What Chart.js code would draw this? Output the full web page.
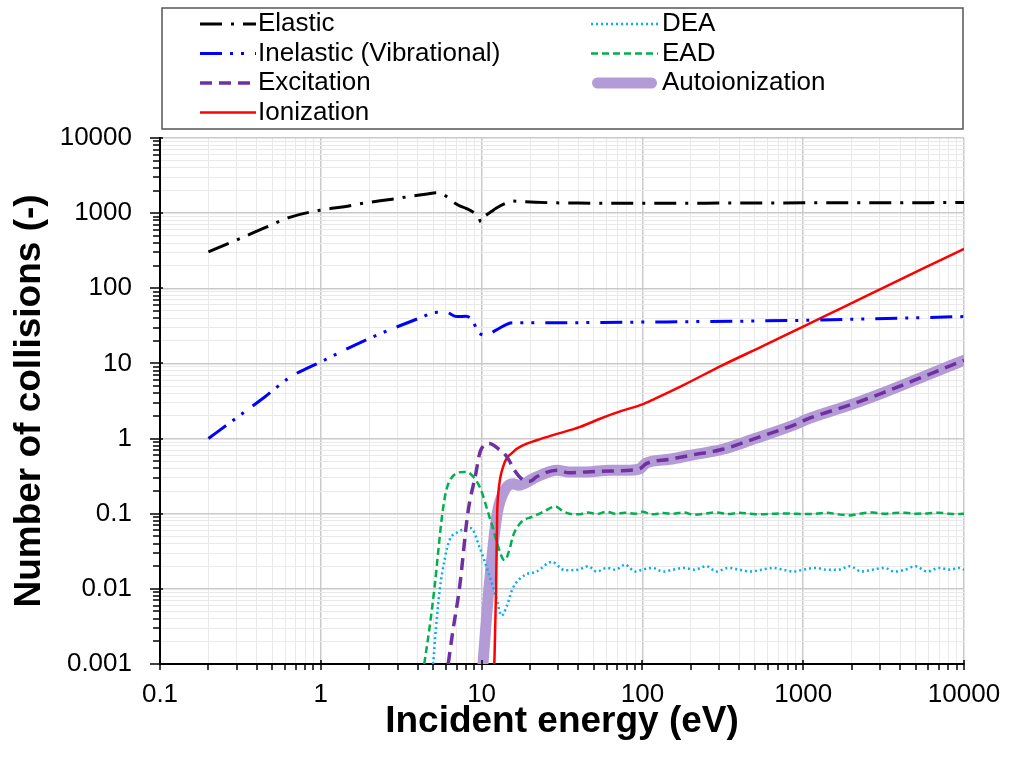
<!DOCTYPE html>
<html>
<head>
<meta charset="utf-8">
<script src="https://cdn.jsdelivr.net/npm/chart.js@4.4.1/dist/chart.umd.min.js"></script>
<style>
  html, body { margin: 0; padding: 0; background: #fff; }
  canvas { display: block; }
</style>
</head>
<body>
<canvas id="chart" width="1009" height="759"></canvas>
<script>
const ctx = document.getElementById('chart');

// axis ticks
const xTickValues = [0.1, 1, 10, 100, 1000, 10000];
const xTickLabels = ['0.1', '1', '10', '100', '1000', '10000'];
const yTickValues = [0.001, 0.01, 0.1, 1, 10, 100, 1000, 10000];
const yTickLabels = ['0.001', '0.01', '0.1', '1', '10', '100', '1000', '10000'];

const seriesNames = ['Elastic', 'Inelastic (Vibrational)', 'Excitation', 'Ionization', 'DEA', 'EAD', 'Autoionization'];

// incident energy (eV) / number of collisions
const elasticX = [0.2, 0.3, 0.45, 0.64, 1.0, 1.4, 1.92, 2.7, 3.74, 4.6, 5.2, 5.7, 6.2, 6.6, 7.3, 8.0, 9.1, 9.6, 9.9, 10.3, 10.7, 11.5, 12.3, 14, 15.6, 18, 25.7, 40, 100, 300, 1000, 3000, 10000];
const elasticY = [306, 440, 640, 880, 1100, 1220, 1375, 1520, 1690, 1800, 1870, 1800, 1600, 1420, 1250, 1160, 990, 880, 760, 880, 944, 1050, 1160, 1340, 1450, 1420, 1380, 1360, 1350, 1360, 1370, 1370, 1390];

const inelasticX = [0.2, 0.3, 0.45, 0.64, 1.0, 2.0, 4.3, 5.1, 6.0, 7.0, 8.0, 8.8, 9.5, 10.7, 12.3, 15.6, 25.7, 100, 1000, 10000];
const inelasticY = [1.0, 1.9, 3.6, 6.5, 10.5, 21.5, 41.7, 47.7, 48, 42, 42.5, 37, 26.4, 23.8, 27.8, 34.8, 34.8, 35.5, 37.5, 42];

const excitationX = [6.2, 6.6, 7.3, 8.2, 9.2, 9.8, 11.2, 12.5, 14.4, 16, 17.8, 20, 22, 29.5, 35, 45, 63, 84, 97, 105, 148, 200, 316, 500, 900, 1050, 2000, 3162, 5620, 10000];
const excitationY = [0.001, 0.0026, 0.0106, 0.1, 0.34, 0.67, 0.86, 0.75, 0.57, 0.38, 0.29, 0.27, 0.31, 0.38, 0.35, 0.36, 0.37, 0.38, 0.40, 0.46, 0.53, 0.6, 0.72, 1.0, 1.55, 1.8, 2.85, 4.1, 6.7, 11];

const ionizationX = [12.0, 12.3, 12.5, 12.7, 13.6, 15.8, 18.2, 22, 27.8, 41, 55, 75, 100, 120, 180, 316, 560, 1000, 1780, 3162, 5620, 10000];
const ionizationY = [0.001, 0.01, 0.1, 0.186, 0.42, 0.67, 0.82, 0.95, 1.11, 1.43, 1.85, 2.35, 2.85, 3.4, 5.15, 9.5, 17, 31, 56, 102, 185, 335];

const autoX = [10.2, 11.1, 12.5, 14.0, 15.7, 17, 22, 29.5, 35, 45, 63, 84, 97, 105, 148, 200, 316, 500, 900, 1050, 2000, 3162, 5620, 10000];
const autoY = [0.001, 0.01, 0.1, 0.21, 0.25, 0.24, 0.31, 0.38, 0.36, 0.36, 0.38, 0.38, 0.40, 0.47, 0.53, 0.6, 0.72, 1.0, 1.55, 1.8, 2.85, 4.1, 6.7, 11];

const eadLowX = [4.4, 4.75, 5.1, 5.7, 6.05, 6.9, 7.8, 8.5, 9.8, 11.2, 11.7, 12.5, 13.9, 15.0, 15.6, 17.4, 20.9, 24, 28.8, 32, 35.3];
const eadLowY = [0.001, 0.0031, 0.0106, 0.1, 0.21, 0.34, 0.36, 0.34, 0.22, 0.09, 0.067, 0.04, 0.024, 0.035, 0.049, 0.075, 0.092, 0.105, 0.125, 0.108, 0.1];

const deaLowX = [5.0, 5.2, 5.5, 5.9, 6.3, 7.1, 8.6, 9.7, 10.9, 12.3, 13.3, 14.3, 15.6, 18.5, 22, 27.3, 33];
const deaLowY = [0.001, 0.003, 0.01, 0.025, 0.044, 0.057, 0.064, 0.036, 0.0177, 0.0078, 0.0044, 0.0058, 0.0101, 0.0152, 0.017, 0.0228, 0.0177];

// noisy plateau of EAD and DEA above ~40 eV
const plateauX = [40, 46, 52, 60, 68, 78, 90, 100, 115, 135, 155, 180, 210, 250, 290, 340, 400, 470, 550, 650, 750, 870, 1000, 1200, 1400, 1650, 1950, 2300, 2700, 3200, 3700, 4300, 5000, 5900, 7000, 8200, 9300, 10000];
const eadPlateauY = [0.098, 0.104, 0.099, 0.106, 0.1, 0.103, 0.1, 0.106, 0.098, 0.102, 0.1, 0.104, 0.097, 0.101, 0.104, 0.099, 0.103, 0.1, 0.098, 0.1, 0.101, 0.1, 0.099, 0.1, 0.103, 0.098, 0.095, 0.101, 0.104, 0.1, 0.102, 0.103, 0.1, 0.101, 0.103, 0.1, 0.099, 0.1];
const deaPlateauY = [0.018, 0.020, 0.017, 0.019, 0.018, 0.021, 0.017, 0.018, 0.019, 0.017, 0.018, 0.019, 0.018, 0.020, 0.017, 0.019, 0.018, 0.017, 0.018, 0.019, 0.018, 0.017, 0.018, 0.019, 0.018, 0.018, 0.020, 0.017, 0.018, 0.019, 0.017, 0.018, 0.020, 0.017, 0.019, 0.018, 0.019, 0.018];

const toPoints = (xs, ys) => xs.map((x, i) => ({ x: x, y: ys[i] }));

const isPow10 = v => Math.abs(Math.log10(v) - Math.round(Math.log10(v))) < 1e-6;

function logTicks(decades) {
  const out = [];
  for (let i = 0; i < decades.length - 1; i++) {
    for (let k = 1; k <= 9; k++) {
      out.push({ value: k * decades[i], major: k === 1 });
    }
  }
  out.push({ value: decades[decades.length - 1], major: true });
  return out;
}

function labelFor(values, labels) {
  return v => {
    const i = values.findIndex(t => Math.abs(Math.log10(t) - Math.log10(v)) < 1e-6);
    return i >= 0 ? labels[i] : '';
  };
}

const gridColor = c => (c.tick && isPow10(c.tick.value)) ? '#cacaca' : '#e9e9e9';
const gridWidth = c => (c.tick && isPow10(c.tick.value)) ? 1.5 : 1;

const data = {
  datasets: [
    {
      label: seriesNames[0],
      data: toPoints(elasticX, elasticY),
      borderColor: '#000000',
      borderWidth: 3,
      borderDash: [22, 9, 3, 9],
    },
    {
      label: seriesNames[1],
      data: toPoints(inelasticX, inelasticY),
      borderColor: '#0000ff',
      borderWidth: 3,
      borderDash: [22, 8, 3, 8, 3, 11],
    },
    {
      label: seriesNames[2],
      data: toPoints(excitationX, excitationY),
      borderColor: '#7030a0',
      borderWidth: 3.5,
      borderDash: [12, 7],
    },
    {
      label: seriesNames[3],
      data: toPoints(ionizationX, ionizationY),
      borderColor: '#ff0000',
      borderWidth: 2.5,
    },
    {
      label: seriesNames[4],
      data: toPoints(deaLowX.concat(plateauX), deaLowY.concat(deaPlateauY)),
      borderColor: '#00b0f0',
      borderWidth: 2.5,
      borderDash: [2, 3],
    },
    {
      label: seriesNames[5],
      data: toPoints(eadLowX.concat(plateauX), eadLowY.concat(eadPlateauY)),
      borderColor: '#00b050',
      borderWidth: 2.5,
      borderDash: [7, 4],
    },
    {
      label: seriesNames[6],
      data: toPoints(autoX, autoY),
      borderColor: '#b39bd6',
      borderWidth: 11,
      borderCapStyle: 'round',
      borderJoinStyle: 'round',
      order: 1,
    }
  ]
};

// small black tick marks on both axes
const axisTicks = {
  id: 'axisTicks',
  afterDraw(chart) {
    const c = chart.ctx;
    const xs = chart.scales.x, ys = chart.scales.y;
    const area = chart.chartArea;
    c.save();
    c.strokeStyle = '#000';
    c.lineWidth = 1.5;
    xs.ticks.forEach(t => {
      const px = Math.round(xs.getPixelForValue(t.value));
      const major = isPow10(t.value);
      c.beginPath();
      c.moveTo(px, area.bottom - (major ? 4 : 0));
      c.lineTo(px, area.bottom + 6);
      c.stroke();
    });
    ys.ticks.forEach(t => {
      const py = Math.round(ys.getPixelForValue(t.value));
      const major = isPow10(t.value);
      c.beginPath();
      c.moveTo(area.left - (major ? 10 : 7), py);
      c.lineTo(area.left + (major ? 3 : 0), py);
      c.stroke();
    });
    c.restore();
  }
};

// boxed two-column legend above the plot
const boxLegend = {
  id: 'boxLegend',
  afterDraw(chart) {
    const c = chart.ctx;
    const slots = [[0, 0], [0, 1], [0, 2], [0, 3], [1, 0], [1, 1], [1, 2]];
    const cols = [{ x0: 200, x1: 256, tx: 258 }, { x0: 591, x1: 658, tx: 662 }];
    c.save();
    c.strokeStyle = '#555';
    c.lineWidth = 1.5;
    c.strokeRect(162, 8, 801, 121);
    c.font = "26px 'Liberation Sans', Arial, sans-serif";
    c.textBaseline = 'middle';
    c.textAlign = 'left';
    chart.data.datasets.forEach((ds, i) => {
      const col = cols[slots[i][0]];
      const y = 24 + slots[i][1] * 29.5;
      c.save();
      c.strokeStyle = ds.borderColor;
      c.lineWidth = ds.borderWidth;
      c.setLineDash(ds.borderDash || []);
      c.lineCap = ds.borderCapStyle || 'butt';
      const inset = c.lineCap === 'round' ? ds.borderWidth / 2 + 1 : 0;
      c.beginPath();
      c.moveTo(col.x0 + inset, y);
      c.lineTo(col.x1 - inset, y);
      c.stroke();
      c.restore();
      c.fillStyle = '#000';
      c.fillText(ds.label, col.tx, y);
    });
    c.restore();
  }
};

const config = {
  type: 'scatter',
  data: data,
  options: {
    responsive: false,
    animation: false,
    devicePixelRatio: 1,
    showLine: true,
    layout: { padding: { top: 138, right: 45, left: 0, bottom: 0 } },
    elements: {
      point: { radius: 0, hoverRadius: 0 },
      line: { tension: 0, cubicInterpolationMode: 'monotone', fill: false }
    },
    plugins: {
      legend: { display: false },
      tooltip: { enabled: false }
    },
    scales: {
      x: {
        type: 'logarithmic',
        min: 0.1,
        max: 10000,
        afterBuildTicks: axis => { axis.ticks = logTicks(xTickValues); },
        afterFit: axis => { axis.height = 95; axis.paddingLeft = 0; axis.paddingRight = 0; },
        grid: { color: gridColor, lineWidth: gridWidth, drawTicks: false },
        border: { display: true, color: '#000', width: 2 },
        ticks: {
          autoSkip: false,
          maxRotation: 0,
          padding: 15,
          color: '#000',
          font: { size: 26 },
          callback: labelFor(xTickValues, xTickLabels)
        },
        title: {
          display: true,
          text: 'Incident energy (eV)',
          color: '#000',
          font: { size: 37, weight: 'bold' },
          padding: { top: 0, bottom: 15 }
        }
      },
      y: {
        type: 'logarithmic',
        min: 0.001,
        max: 10000,
        afterBuildTicks: axis => { axis.ticks = logTicks(yTickValues); },
        afterFit: axis => { axis.width = 160; },
        grid: { color: gridColor, lineWidth: gridWidth, drawTicks: false },
        border: { display: true, color: '#000', width: 2 },
        ticks: {
          autoSkip: false,
          padding: 28,
          color: '#000',
          font: { size: 26 },
          callback: labelFor(yTickValues, yTickLabels)
        },
        title: {
          display: true,
          text: 'Number of collisions (-)',
          color: '#000',
          font: { size: 37, weight: 'bold' },
          padding: { top: 8, bottom: 0 }
        }
      }
    }
  },
  plugins: [axisTicks, boxLegend]
};

Chart.defaults.font.family = "'Liberation Sans', Arial, sans-serif";

const chart = new Chart(ctx, config);
</script>
</body>
</html>
